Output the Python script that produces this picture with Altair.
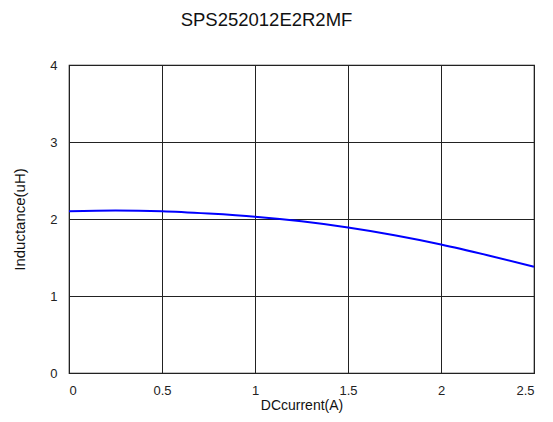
import altair as alt
import pandas as pd

current = [0.0, 0.25, 0.5, 0.75, 1.0, 1.25, 1.5, 1.75, 2.0, 2.25, 2.5]
inductance = [2.10, 2.11, 2.10, 2.07, 2.03, 1.97, 1.89, 1.79, 1.67, 1.53, 1.38]

x_ticks = [0, 0.5, 1, 1.5, 2, 2.5]
y_ticks = [0, 1, 2, 3, 4]

df = pd.DataFrame({"current": current, "inductance": inductance})

FONT = "Liberation Sans"

chart = alt.Chart(df).mark_line(color="#0000ff", strokeWidth=2, interpolate="monotone").encode(
    x=alt.X("current:Q", scale=alt.Scale(domain=[0, 2.5], nice=False),
            axis=alt.Axis(title="DCcurrent(A)", values=x_ticks, labelExpr="datum.value",
                          grid=True, gridColor="#222222", gridWidth=1, gridOpacity=1,
                          ticks=False, domain=False, labelPadding=11,
                          labelFont=FONT, labelFontSize=13, labelColor="#222222",
                          titleFont=FONT, titleFontSize=14, titleFontWeight="normal",
                          titleColor="#111111", titlePadding=1)),
    y=alt.Y("inductance:Q", scale=alt.Scale(domain=[0, 4], nice=False),
            axis=alt.Axis(title="Inductance(uH)", values=y_ticks,
                          grid=True, gridColor="#222222", gridWidth=1, gridOpacity=1,
                          ticks=False, domain=False, labelPadding=12,
                          labelFont=FONT, labelFontSize=13, labelColor="#222222",
                          titleFont=FONT, titleFontSize=15, titleFontWeight="normal",
                          titleColor="#111111", titlePadding=22)),
).properties(
    width=465,
    height=308,
    title=alt.TitleParams("SPS252012E2R2MF", font=FONT, fontSize=18.5, fontWeight="normal",
                          color="#111111", anchor="middle", dx=-35, offset=30),
    padding={"left": 69, "top": 65, "right": 19, "bottom": 49},
    autosize=alt.AutoSizeParams(type="none"),
).configure_view(stroke="#111111", strokeWidth=1.2)

chart.save("out.html", embed_options={"renderer": "svg", "actions": False})
